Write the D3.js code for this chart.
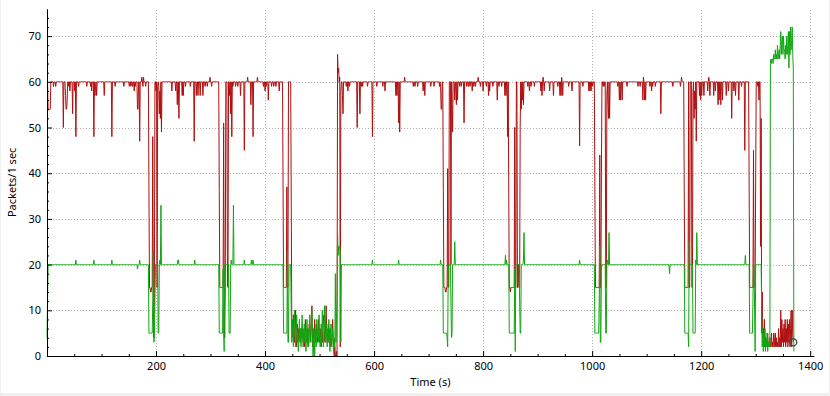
<!DOCTYPE html>
<html>
<head>
<meta charset="utf-8">
<script src="https://cdnjs.cloudflare.com/ajax/libs/d3/7.8.5/d3.min.js"></script>
<style>
  html, body { margin: 0; padding: 0; background: #f0f0f0; }
  svg { display: block; }
  text { font-family: "Noto Sans", "Open Sans", sans-serif; font-size: 11px; fill: #000; }
</style>
</head>
<body>
<svg id="chart" width="830" height="396"></svg>
<script>
// packets per 1 s interval
// each run: [first second, [values for consecutive seconds]]
const redBase = 60, redLast = 1369;
const greenBase = 20, greenLast = 1370;

const redRuns = [
  [0, [60, 60, 54, 54, 54, 54, 54]],
  [12, [59]], [16, [59]], [30, [50]], [34, [57, 54, 54, 56]], [40, [59]], [42, [58]], [47, [53]],
  [51, [58]], [53, [48]], [58, [59]], [73, [59]], [80, [59]], [82, [58]], [86, [48]], [88, [57, 59]],
  [91, [57]], [105, [57]], [119, [48]], [125, [59]], [141, [59]], [151, [59]], [154, [59]], [157, [59]],
  [160, [58]], [162, [59]], [166, [54, 54]], [170, [47]], [174, [61]], [176, [59, 61]], [181, [59]],
  [187, [36, 15, 15, 14, 14, 15, 15, 48, 15, 4, 15, 60, 60, 58, 60, 15, 59, 60, 59, 53, 58, 52, 60, 49]],
  [229, [58]], [236, [58]], [239, [55]], [242, [52]], [248, [57]], [250, [57]], [254, [59]], [263, [59]],
  [270, [47]], [274, [57]], [277, [57]], [281, [57]], [286, [57]], [290, [59]], [294, [59]], [299, [61]], [302, [59]],
  [316, [36, 15, 15, 15, 15, 15, 15, 15, 51, 15, 4, 15, 60, 60, 60, 16, 15, 60, 60, 57, 60, 53, 60, 48, 60, 59]],
  [346, [59]], [350, [59]], [355, [57]], [362, [45]], [368, [61]], [374, [55]], [378, [48]], [386, [61]],
  [397, [59]], [400, [58]], [402, [59]], [406, [56]], [412, [59]], [416, [59]], [420, [59]], [426, [58]],
  [433, [37, 15, 15, 15, 15, 15, 15, 37, 15, 15, 60, 60, 60, 60, 60, 35]],
  [533, [66, 62, 63, 60, 61, 2, 58, 60, 60, 57, 53]],
  [549, [59]], [552, [58]], [555, [59]], [569, [50]], [574, [53]], [577, [59]], [579, [59]], [588, [59]],
  [597, [48]], [605, [59]], [616, [59]], [620, [58]], [640, [57]], [642, [57]], [645, [51]], [647, [49]],
  [656, [61]], [672, [59]], [675, [59]], [680, [59]], [690, [58]], [693, [57]],
  [704, [59]], [710, [59]], [720, [59]], [722, [59, 54, 54]],
  [727, [36, 15, 15, 15, 14, 14, 15, 15, 41, 15, 15, 60, 60, 60, 20, 60, 55, 49, 60, 60, 60, 56, 59, 60, 55, 60, 56]],
  [757, [59]], [760, [59]], [765, [51]], [770, [59]], [773, [59]], [776, [59]], [780, [58]], [783, [59]],
  [786, [59]], [791, [61]], [795, [59]], [800, [58]], [806, [59]], [810, [57]], [812, [58]], [818, [59]],
  [826, [56]], [829, [59]], [834, [59]], [840, [57]], [842, [57]], [845, [48]],
  [847, [36, 15, 15, 14, 15, 15, 15, 15, 15, 15, 15, 50, 15, 15, 60, 60, 15, 15, 20, 15, 15, 50, 60, 54, 60, 56, 60, 55]],
  [882, [59]], [885, [58]], [888, [59]], [894, [59]], [906, [58]], [908, [57]], [910, [61]], [912, [58]],
  [922, [58]], [929, [57]], [937, [59]], [941, [57]], [943, [57, 61]], [946, [57]], [957, [59]], [963, [58]],
  [977, [46]], [983, [59]], [994, [58]], [996, [58]], [998, [58]], [1001, [59]],
  [1005, [37, 15, 15, 15, 15, 15, 15, 15, 15, 44, 15, 15, 40, 60, 60, 59, 60, 59, 60, 60, 15, 15, 57, 60, 55, 52, 60, 52]],
  [1047, [59]], [1050, [56]], [1052, [56]], [1055, [56]], [1064, [59]], [1084, [59]], [1088, [59]],
  [1093, [56, 61]], [1096, [56]], [1098, [56]], [1106, [59]], [1109, [58]], [1111, [59]], [1116, [59]],
  [1126, [53]], [1148, [59]], [1162, [59]], [1164, [61]],
  [1169, [35, 15, 15, 15, 15, 15, 15, 15, 60, 15, 15, 60, 60, 60, 15, 15, 58, 60, 52, 58, 54, 60, 47]],
  [1197, [57]], [1199, [56]], [1201, [57]], [1205, [57]], [1212, [58]], [1214, [61]], [1216, [57]],
  [1223, [57]], [1226, [58]], [1231, [55]], [1233, [56]], [1236, [55]], [1239, [56]], [1246, [57]],
  [1250, [58]], [1256, [52]], [1260, [58]], [1263, [57]], [1269, [56]], [1274, [59]], [1280, [45]],
  [1288, [37, 15, 15, 15, 15, 15, 15, 15, 45, 15, 15, 15, 40, 60, 60, 60, 59, 60, 56, 60, 60, 24, 52, 5, 14, 4, 6, 3, 8]]
];

// the busy stretch around 450-530 s
const redNoise = [449, [
  8, 6, 4, 9, 5, 3, 6, 10, 4, 2, 7, 5, 3, 6, 4, 6, 3, 5, 6, 4,
  7, 3, 5, 2, 6, 8, 4, 3, 6, 4, 2, 5, 7, 6, 3, 5, 9, 11, 2, 6,
  1, 4, 8, 3, 5, 7, 4, 3, 6, 8, 5, 3, 6, 4, 2, 5, 3, 6, 8, 9,
  4, 3, 6, 11, 5, 3, 4, 7, 3, 5, 6, 2, 4, 3, 5, 8, 4, 1, 0, 2,
  0, 0, 1, 0]];

const redTail = [1317, [
  2, 4, 2, 3, 2, 5, 2, 3, 2, 4, 2, 2, 5, 2, 3, 2, 5, 4, 2, 5,
  2, 4, 2, 3, 2, 6, 2, 4, 2, 10, 2, 8, 3, 6, 2, 7, 3, 8, 2, 6,
  3, 8, 2, 7, 3, 8, 2, 6, 10, 2, 10, 5, 3]];

const greenRuns = [
  [0, [4, 12]],
  [53, [21]], [86, [21]], [119, [21]], [166, [19]], [170, [21]],
  [187, [5, 5, 5, 5, 5, 5, 5, 12, 23, 3, 4, 12, 20, 20, 20, 20, 20, 5, 5, 20, 21, 20, 33]],
  [240, [21, 21]], [271, [21]],
  [316, [5, 5, 5, 5, 5, 5, 5, 19, 5, 1, 20, 20, 20, 20, 20, 20, 20, 20, 5, 5, 5, 20, 21, 20, 20, 20, 33]],
  [362, [21]], [375, [21]], [378, [21]],
  [434, [5, 5, 5, 5, 5, 5, 5, 23, 3, 3, 20, 20, 20, 20]],
  [597, [21]], [645, [21]], [722, [21]],
  [727, [5, 5, 5, 5, 5, 5, 5, 4, 2, 20, 20, 20, 20, 20, 12, 4, 5, 20, 20, 20, 20, 25]],
  [841, [22, 20, 21]],
  [848, [5, 5, 5, 5, 5, 5, 5, 5, 5, 5, 19, 1, 20, 20, 20, 20, 20, 20, 20, 12, 5, 5, 20, 20, 20, 20, 21, 27]],
  [977, [21]],
  [1005, [5, 5, 5, 5, 5, 5, 5, 5, 12, 24, 3, 3, 20, 20, 20, 20, 20, 20, 20, 20, 5, 5, 20, 21, 20, 20, 27]],
  [1142, [18]],
  [1170, [5, 5, 5, 5, 5, 5, 5, 2, 25, 20, 20, 20, 20, 20, 20, 5, 5, 5, 5, 5, 21, 20, 27]],
  [1281, [22]],
  [1289, [5, 5, 5, 5, 5, 5, 12, 20, 20, 10, 1]]
];

const greenNoise = [448, [
  10, 3, 8, 5, 2, 7, 10, 4, 2, 6, 9, 3, 5, 1, 4, 8, 3, 6, 2, 5,
  9, 4, 2, 6, 3, 7, 4, 1, 5, 8, 3, 6, 2, 4, 9, 5, 3, 7, 10, 4,
  0, 2, 6, 0, 3, 5, 2, 8, 4, 6, 3, 9, 5, 2, 4, 7, 3, 10, 6, 2,
  4, 11, 5, 3, 7, 4, 2, 6, 3, 8, 4, 1, 5, 7, 2, 4, 6, 2, 1, 4,
  2, 18, 3, 8, 12, 27, 22, 24, 24, 24, 22, 3]];

const greenTail = [1311, [
  10, 2, 6, 1, 5, 2, 6, 1, 4, 2, 5, 1, 3, 2, 4, 2,
  64, 65, 64, 65, 65, 64, 66, 65, 65, 67, 65, 66, 65, 68, 65, 66, 67, 65, 68, 71,
  66, 69, 70, 66, 70, 67, 67, 65, 68, 66, 70, 66, 68, 71, 63, 71, 66, 72, 67, 69,
  72, 66, 63, 1]];

const xMajor = [200, 400, 600, 800, 1000, 1200, 1400];
const yMajor = [0, 10, 20, 30, 40, 50, 60, 70];

function buildSeries(base, last, runs) {
  const vals = new Array(last + 1).fill(base);
  runs.forEach(([t0, vs]) => vs.forEach((v, i) => { vals[t0 + i] = v; }));
  return vals.map((v, t) => [t, v]);
}

const redData = buildSeries(redBase, redLast, [...redRuns, redNoise, redTail]);
const greenData = buildSeries(greenBase, greenLast, [...greenRuns, greenNoise, greenTail]);

const svg = d3.select("#chart");
svg.append("rect")
    .attr("x", 1).attr("y", 0)
    .attr("width", 828).attr("height", 393)
    .attr("fill", "#fff");

const x = d3.scaleLinear().domain([0, 1406.6]).range([47, 813.8]);
const y = d3.scaleLinear().domain([0, 76]).range([356, 8.7]);

// dotted grid
const grid = svg.append("g")
    .attr("stroke", "#b4b4b4")
    .attr("stroke-dasharray", "1,2")
    .attr("shape-rendering", "crispEdges");
grid.selectAll(".gx").data(xMajor).join("line")
    .attr("x1", d => Math.round(x(d)) + 0.5).attr("x2", d => Math.round(x(d)) + 0.5)
    .attr("y1", y(0)).attr("y2", y(76));
grid.selectAll(".gy").data(yMajor.filter(d => d > 0)).join("line")
    .attr("x1", x(0)).attr("x2", x(1406.6))
    .attr("y1", d => Math.round(y(d)) + 0.5).attr("y2", d => Math.round(y(d)) + 0.5);

// series
const line = d3.line().x(d => x(d[0])).y(d => y(d[1]));
svg.append("path")
    .datum(redData)
    .attr("d", line)
    .attr("fill", "none")
    .attr("stroke", "#b00f0f")
    .attr("stroke-width", 1);
svg.append("path")
    .datum(greenData)
    .attr("d", line)
    .attr("fill", "none")
    .attr("stroke", "#10a810")
    .attr("stroke-width", 1);

// tracer on last red point
const lastRed = redData[redData.length - 1];
svg.append("circle")
    .attr("cx", x(lastRed[0])).attr("cy", y(lastRed[1]))
    .attr("r", 3.5)
    .attr("fill", "none")
    .attr("stroke", "#444")
    .attr("stroke-width", 1.3);

// axes: ticks point inwards
const xMinor = d3.range(50, 1401, 50).filter(d => d % 200 !== 0);
const yMinor = d3.range(2, 76, 2).filter(d => d % 10 !== 0);

const gx = svg.append("g").attr("transform", `translate(0,${y(0)})`);
gx.call(d3.axisBottom(x).tickValues(xMajor).tickSize(-5).tickSizeOuter(0).tickPadding(6).tickFormat(d3.format("d")));
gx.append("g").call(d3.axisBottom(x).tickValues(xMinor).tickSize(-2).tickSizeOuter(0).tickFormat(""))
    .select(".domain").remove();

const gy = svg.append("g").attr("transform", `translate(${x(0)},0)`);
gy.call(d3.axisLeft(y).tickValues(yMajor).tickSize(-5).tickSizeOuter(0).tickPadding(6));
gy.append("g").call(d3.axisLeft(y).tickValues(yMinor).tickSize(-2).tickSizeOuter(0).tickFormat(""))
    .select(".domain").remove();

svg.selectAll(".domain, .tick line").attr("stroke", "#000");
svg.selectAll(".tick text").attr("fill", "#000");

svg.append("text")
    .attr("x", (x(0) + x(1406.6)) / 2).attr("y", 386)
    .attr("text-anchor", "middle")
    .text("Time (s)");
svg.append("text")
    .attr("transform", `translate(16,${(y(0) + y(76)) / 2}) rotate(-90)`)
    .attr("text-anchor", "middle")
    .text("Packets/1 sec");
</script>
</body>
</html>
